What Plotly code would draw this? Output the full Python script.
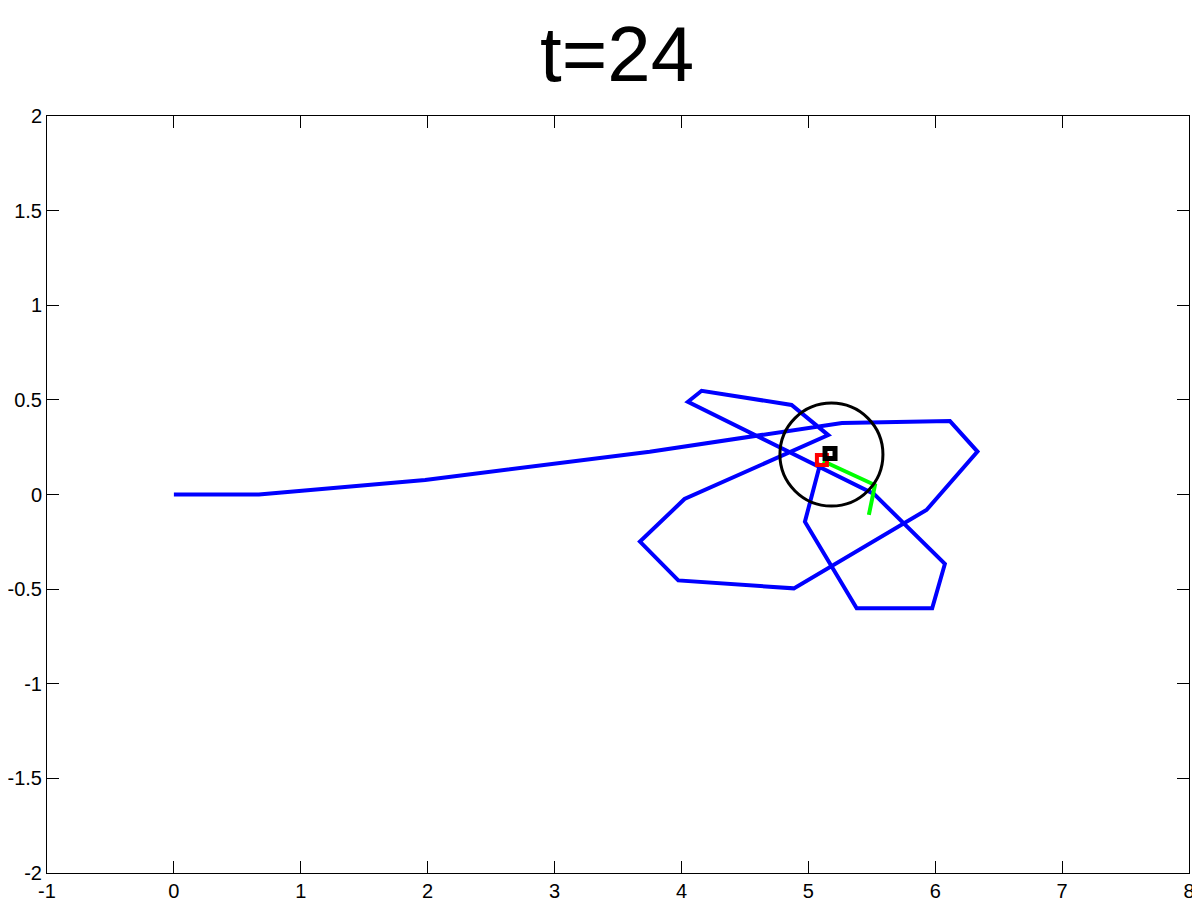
import plotly.graph_objects as go

# blue trajectory (x, y)
path_x = [0.0, 0.67, 1.98, 3.75, 5.265, 6.116, 6.333, 5.931, 4.886, 3.975, 3.673, 4.024,
          5.157, 4.868, 4.159, 4.051, 5.517, 6.076, 5.976, 5.381, 4.973, 5.095]
path_y = [0.0, 0.0, 0.077, 0.226, 0.378, 0.388, 0.227, -0.082, -0.496, -0.454, -0.249, -0.024,
          0.314, 0.473, 0.548, 0.490, 0.003, -0.367, -0.601, -0.601, -0.144, 0.166]

# green heading lines
heading_x = [5.115, 5.525, 5.477]
heading_y = [0.177, 0.050, -0.108]

# markers
robot_x, robot_y = [5.107], [0.182]     # red square
target_x, target_y = [5.171], [0.217]   # black square
range_x, range_y = [5.182], [0.211]     # black circle

x_ticks = [-1, 0, 1, 2, 3, 4, 5, 6, 7, 8]
x_labels = ["-1", "0", "1", "2", "3", "4", "5", "6", "7", "8"]
y_ticks = [-2, -1.5, -1, -0.5, 0, 0.5, 1, 1.5, 2]
y_labels = ["-2", "-1.5", "-1", "-0.5", "0", "0.5", "1", "1.5", "2"]

font = "Liberation Sans, Arial, Helvetica, sans-serif"

fig = go.Figure()
fig.add_trace(go.Scatter(x=path_x, y=path_y, mode="lines",
                         line=dict(color="#0000ff", width=4)))
fig.add_trace(go.Scatter(x=heading_x, y=heading_y, mode="lines",
                         line=dict(color="#00ff00", width=4)))
fig.add_trace(go.Scatter(x=robot_x, y=robot_y, mode="markers",
                         marker=dict(symbol="square-open", size=10, color="#ff0000",
                                     line=dict(width=4, color="#ff0000"))))
fig.add_trace(go.Scatter(x=target_x, y=target_y, mode="markers",
                         marker=dict(symbol="square-open", size=10, color="black",
                                     line=dict(width=5, color="black"))))
fig.add_trace(go.Scatter(x=range_x, y=range_y, mode="markers",
                         marker=dict(symbol="circle-open", size=103, color="black",
                                     line=dict(width=3, color="black"))))

axis_common = dict(showgrid=False, zeroline=False, showline=True, linecolor="black",
                   linewidth=1, mirror="ticks", ticks="inside", ticklen=12,
                   tickcolor="black", tickwidth=1, automargin=False,
                   tickfont=dict(family=font, size=20, color="black"))

# page body has an 8px margin, so the figure is 8px smaller than the window
fig.update_layout(
    width=1192, height=893,
    margin=dict(l=39, r=11, t=108, b=28),
    paper_bgcolor="white", plot_bgcolor="white",
    showlegend=False,
    title=dict(text="t=24", x=0.511, xanchor="center", yref="container",
               y=1 - 46 / 893, yanchor="middle",
               font=dict(family=font, size=78, color="black")),
    xaxis=dict(range=[-1, 8], tickvals=x_ticks, ticktext=x_labels, **axis_common),
    yaxis=dict(range=[-2, 2], tickvals=y_ticks, ticktext=y_labels, **axis_common),
)

fig.write_html("out.html")
